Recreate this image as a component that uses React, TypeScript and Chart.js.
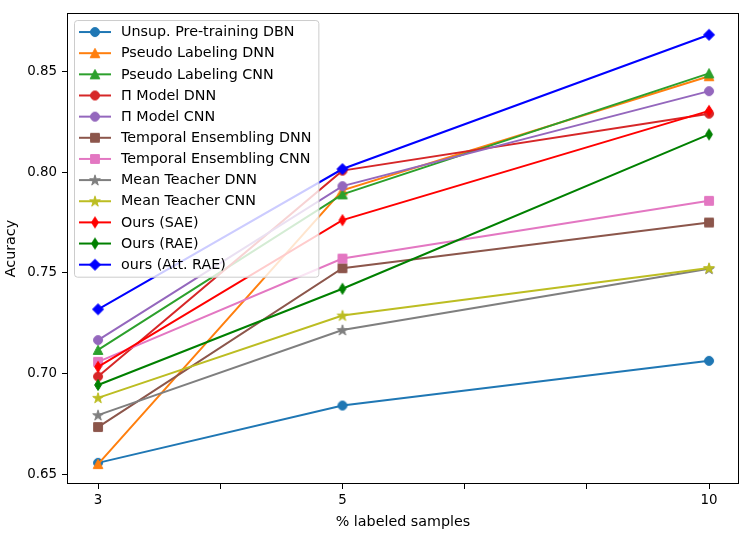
import { useEffect, useRef } from 'react';
import { Chart, registerables } from 'chart.js';

Chart.register(...registerables);

// x axis: evenly spaced slots, only some carry a label
const xSlots = ['3', '', '5', '', '', '10'];
const labeledPct = ['3', '5', '10'];
const yTicks = [0.65, 0.7, 0.75, 0.8, 0.85];

const unsupDBN = [0.6556, 0.6841, 0.7063];
const pseudoDNN = [0.655, 0.791, 0.8477];
const pseudoCNN = [0.7117, 0.789, 0.8491];
const piDNN = [0.6985, 0.8008, 0.8291];
const piCNN = [0.7166, 0.7931, 0.8403];
const temporalDNN = [0.6734, 0.7523, 0.775];
const temporalCNN = [0.7058, 0.7571, 0.7858];
const meanTeacherDNN = [0.6793, 0.7216, 0.752];
const meanTeacherCNN = [0.6879, 0.7288, 0.7524];
const oursSAE = [0.7033, 0.7762, 0.8305];
const oursRAE = [0.6943, 0.7421, 0.8188];
const oursAttRAE = [0.7319, 0.8016, 0.8683];

const seriesLabels = [
  'Unsup. Pre-training DBN',
  'Pseudo Labeling DNN',
  'Pseudo Labeling CNN',
  'Π Model DNN',
  'Π Model CNN',
  'Temporal Ensembling DNN',
  'Temporal Ensembling CNN',
  'Mean Teacher DNN',
  'Mean Teacher CNN',
  'Ours (SAE)',
  'Ours (RAE)',
  'ours (Att. RAE)',
];
const seriesValues = [
  unsupDBN, pseudoDNN, pseudoCNN, piDNN, piCNN, temporalDNN,
  temporalCNN, meanTeacherDNN, meanTeacherCNN, oursSAE, oursRAE, oursAttRAE,
];
const seriesColors = [
  '#1f77b4', '#ff7f0e', '#2ca02c', '#d62728', '#9467bd', '#8c564b',
  '#e377c2', '#7f7f7f', '#bcbd22', '#ff0000', '#008000', '#0000ff',
];
const seriesMarkers = [
  'circle', 'triangle', 'triangle', 'circle', 'circle', 'square',
  'square', 'star', 'star', 'thinDiamond', 'thinDiamond', 'diamond',
];

const FONT = 'DejaVu Sans';
const LABEL_SIZE = 14.3;
const TICK_SIZE = 13.4;

// matplotlib-like filled markers drawn on a small canvas
function makeMarker(shape: string, color: string): HTMLCanvasElement {
  const size = 16;
  const c = size / 2;
  const cv = document.createElement('canvas');
  cv.width = size;
  cv.height = size;
  const ctx = cv.getContext('2d')!;
  ctx.fillStyle = color;
  ctx.strokeStyle = color;
  ctx.lineWidth = 1;
  ctx.lineJoin = 'miter';
  ctx.beginPath();
  if (shape === 'circle') {
    ctx.arc(c, c, 4.5, 0, Math.PI * 2);
  } else if (shape === 'square') {
    ctx.rect(c - 4.4, c - 4.4, 8.8, 8.8);
  } else if (shape === 'triangle') {
    ctx.moveTo(c, c - 4.8);
    ctx.lineTo(c + 4.8, c + 4.4);
    ctx.lineTo(c - 4.8, c + 4.4);
    ctx.closePath();
  } else if (shape === 'diamond') {
    ctx.moveTo(c, c - 5.5);
    ctx.lineTo(c + 5.5, c);
    ctx.lineTo(c, c + 5.5);
    ctx.lineTo(c - 5.5, c);
    ctx.closePath();
  } else if (shape === 'thinDiamond') {
    ctx.moveTo(c, c - 5.5);
    ctx.lineTo(c + 3.4, c);
    ctx.lineTo(c, c + 5.5);
    ctx.lineTo(c - 3.4, c);
    ctx.closePath();
  } else if (shape === 'star') {
    const R = 5.6;
    const r = R * 0.382;
    for (let i = 0; i < 10; i++) {
      const rad = i % 2 === 0 ? R : r;
      const a = -Math.PI / 2 + (i * Math.PI) / 5;
      const px = c + rad * Math.cos(a);
      const py = c + 0.4 + rad * Math.sin(a);
      if (i === 0) ctx.moveTo(px, py);
      else ctx.lineTo(px, py);
    }
    ctx.closePath();
  }
  ctx.fill();
  ctx.stroke();
  return cv;
}

const frameAndLegend = {
  id: 'frameAndLegend',
  afterDatasetsDraw(chart: any) {
    const { ctx, chartArea } = chart;
    const { left, top, right, bottom } = chartArea;
    ctx.save();

    // axes frame (all four spines)
    ctx.strokeStyle = '#000';
    ctx.lineWidth = 1;
    ctx.strokeRect(Math.round(left) + 0.5, Math.round(top) + 0.5,
      Math.round(right - left) - 1, Math.round(bottom - top) - 1);

    // legend box, upper left inside the axes
    ctx.font = `${LABEL_SIZE}px "${FONT}"`;
    const datasets = chart.data.datasets;
    const maxW = Math.max(...datasets.map((d: any) => ctx.measureText(d.label).width));
    const bx = left + 7;
    const by = top + 7;
    const rowH = 21.15;
    const bw = 47 + maxW + 7;
    const bh = 12 + rowH * (datasets.length - 1) + 12;
    ctx.beginPath();
    ctx.roundRect(bx + 0.5, by + 0.5, bw, bh, 3);
    ctx.fillStyle = 'rgba(255,255,255,0.8)';
    ctx.fill();
    ctx.strokeStyle = '#cccccc';
    ctx.stroke();

    datasets.forEach((d: any, i: number) => {
      const y = by + 12 + i * rowH;
      ctx.strokeStyle = d.borderColor;
      ctx.lineWidth = 2;
      ctx.beginPath();
      ctx.moveTo(bx + 5, y);
      ctx.lineTo(bx + 37, y);
      ctx.stroke();
      const img = d.pointStyle as HTMLCanvasElement;
      ctx.drawImage(img, bx + 21 - img.width / 2, y - img.height / 2);
      ctx.fillStyle = '#000';
      ctx.textBaseline = 'middle';
      ctx.textAlign = 'left';
      ctx.fillText(d.label, bx + 47, y + 0.5);
    });
    ctx.restore();
  },
};

export default function App() {
  const canvasRef = useRef<HTMLCanvasElement>(null);
  const chartRef = useRef<Chart | null>(null);

  useEffect(() => {
    if (!canvasRef.current) return;
    if (chartRef.current) chartRef.current.destroy();

    const datasets = seriesLabels.map((label, i) => {
      const marker = makeMarker(seriesMarkers[i], seriesColors[i]);
      return {
        label,
        data: seriesValues[i].map((v, j) => ({ x: xSlots.indexOf(labeledPct[j]), y: v })),
        borderColor: seriesColors[i],
        backgroundColor: seriesColors[i],
        borderWidth: 2,
        pointStyle: marker,
        pointRadius: 5,
        pointHoverRadius: 5,
        tension: 0,
        order: seriesLabels.length - i,
      };
    });

    chartRef.current = new Chart(canvasRef.current, {
      type: 'line',
      data: { datasets: datasets as any },
      options: {
        animation: false,
        responsive: true,
        maintainAspectRatio: false,
        layout: { padding: { top: 10, right: 9, left: 0, bottom: 0 } },
        plugins: {
          legend: { display: false },
          tooltip: { enabled: false },
        },
        scales: {
          x: {
            type: 'linear',
            min: -0.254,
            max: 5.245,
            afterBuildTicks: (scale: any) => {
              scale.ticks = xSlots.map((_, i) => ({ value: i }));
            },
            afterFit: (scale: any) => {
              scale.height = 56;
            },
            ticks: {
              callback: (v: any) => xSlots[v] ?? '',
              color: '#000',
              font: { family: FONT, size: TICK_SIZE },
              padding: 3,
              maxRotation: 0,
              autoSkip: false,
            },
            grid: {
              display: true,
              drawOnChartArea: false,
              drawTicks: true,
              tickLength: 5,
              color: '#000',
            },
            border: { display: false },
            title: {
              display: true,
              text: '% labeled samples',
              color: '#000',
              font: { family: FONT, size: LABEL_SIZE },
              padding: { top: 4, bottom: 9 },
            },
          },
          y: {
            type: 'linear',
            min: 0.6451,
            max: 0.8791,
            afterBuildTicks: (scale: any) => {
              scale.ticks = yTicks.map((v) => ({ value: v }));
            },
            afterFit: (scale: any) => {
              scale.width = 67;
            },
            ticks: {
              callback: (v: any) => Number(v).toFixed(2),
              color: '#000',
              font: { family: FONT, size: TICK_SIZE },
              padding: 5,
            },
            grid: {
              display: true,
              drawOnChartArea: false,
              drawTicks: true,
              tickLength: 5,
              color: '#000',
            },
            border: { display: false },
            title: {
              display: true,
              text: 'Acuracy',
              color: '#000',
              font: { family: FONT, size: LABEL_SIZE },
              padding: { top: 3, bottom: 4 },
            },
          },
        },
      },
      plugins: [frameAndLegend],
    });

    return () => {
      if (chartRef.current) {
        chartRef.current.destroy();
        chartRef.current = null;
      }
    };
  }, []);

  return (
    <div style={{ position: 'fixed', left: 0, top: 0, width: '748px', height: '540px', background: '#fff' }}>
      <canvas ref={canvasRef} />
    </div>
  );
}
